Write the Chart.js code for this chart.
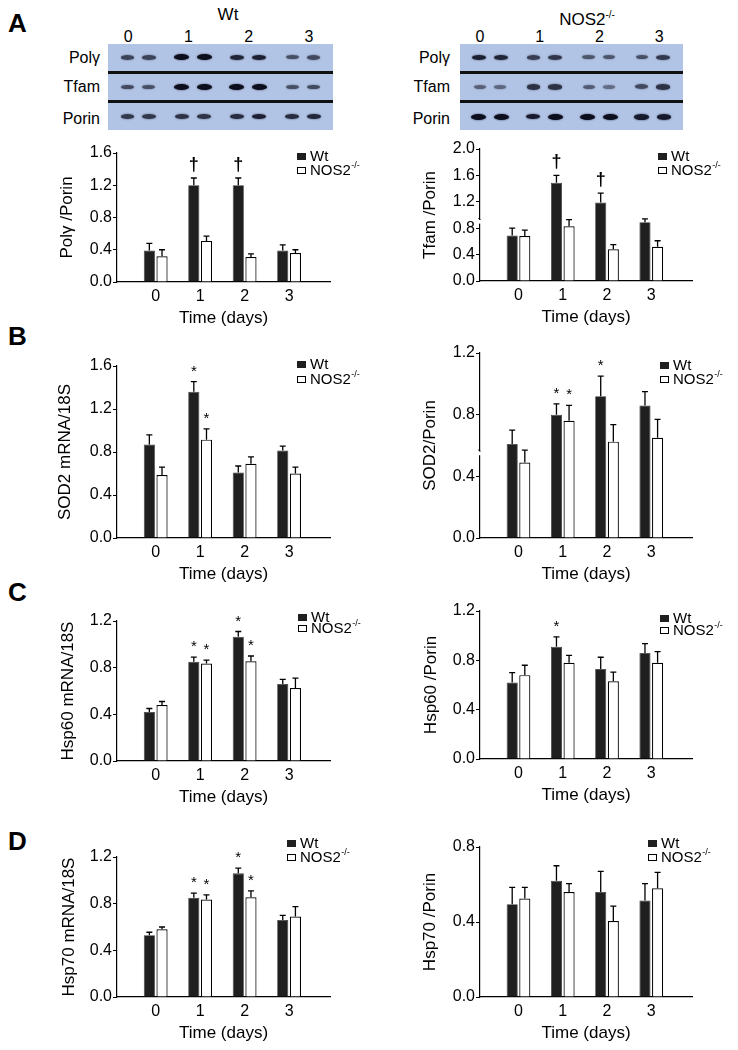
<!DOCTYPE html>
<html>
<head>
<meta charset="utf-8">
<script src="https://cdn.jsdelivr.net/npm/chart.js@4.4.0/dist/chart.umd.min.js"></script>
<style>
  body { margin: 0; background: #fff; font-family: "Liberation Sans", Arial, sans-serif; color: #000; }
  #fig { position: relative; width: 738px; height: 1050px; overflow: hidden; }
  .abs { position: absolute; }
  .panel { font-weight: bold; font-size: 26px; line-height: 28px; }
  .blot { background: #b2c4e6; display: flex; flex-direction: column; }
  .brow { flex: 1; display: flex; align-items: center; padding: 0 3px; }
  .brow + .brow { border-top: 3px solid #111; }
  .bgrp { flex: 1; display: flex; justify-content: center; gap: 8px; }
  .band { border-radius: 50%; }
  .rlab { font-size: 16px; line-height: 20px; text-align: right; width: 80px; }
  .nums { display: flex; font-size: 16px; line-height: 20px; }
  .nums div { flex: 1; text-align: center; }
  .head { font-size: 17px; line-height: 20px; text-align: center; width: 120px; }
  sup { font-size: 10px; }
  canvas { position: absolute; }
</style>
</head>
<body>
<div id="fig">
  <div class="abs panel" style="left:8px;top:9px">A</div>
  <div class="abs panel" style="left:8px;top:322px">B</div>
  <div class="abs panel" style="left:8px;top:578px">C</div>
  <div class="abs panel" style="left:8px;top:827px">D</div>

  <div class="abs head" style="left:168px;top:5px">Wt</div>
  <div class="abs head" style="left:527px;top:5px">NOS2<sup>-/-</sup></div>
  <div class="abs nums" id="numsWt" style="left:98px;top:27px;width:241px"></div>
  <div class="abs nums" id="numsNos" style="left:450px;top:27px;width:239px"></div>
  <div class="abs blot" id="blotWt" style="left:108px;top:44px;width:225px;height:86px"></div>
  <div class="abs blot" id="blotNos" style="left:460px;top:44px;width:223px;height:86px"></div>
  <div id="labsWt"></div>
  <div id="labsNos"></div>

  <canvas id="cA1"></canvas>
  <canvas id="cA2"></canvas>
  <canvas id="cB1"></canvas>
  <canvas id="cB2"></canvas>
  <canvas id="cC1"></canvas>
  <canvas id="cC2"></canvas>
  <canvas id="cD1"></canvas>
  <canvas id="cD2"></canvas>
</div>
<script>
// days after treatment
const days = [0, 1, 2, 3];
const blotRows = ['Polγ', 'Tfam', 'Porin'];

// western blot band strength (0-1), two lanes per day
const wtPolyBands  = [0.55, 0.55, 1.0, 1.0, 0.8, 0.85, 0.45, 0.5];
const wtTfamBands  = [0.5, 0.45, 1.0, 1.0, 1.0, 1.0, 0.45, 0.5];
const wtPorinBands = [0.65, 0.65, 0.7, 0.7, 0.75, 0.85, 0.75, 0.8];
const nosPolyBands  = [0.85, 0.8, 0.6, 0.65, 0.4, 0.4, 0.45, 0.65];
const nosTfamBands  = [0.3, 0.25, 0.7, 0.7, 0.35, 0.2, 0.5, 0.7];
const nosPorinBands = [1.0, 1.0, 0.9, 1.0, 1.0, 1.0, 0.9, 0.9];

// A: Polγ/Porin
const polyWt = [0.39, 1.20, 1.20, 0.39];
const polyWtSem = [0.09, 0.09, 0.09, 0.07];
const polyNos = [0.32, 0.51, 0.31, 0.36];
const polyNosSem = [0.08, 0.06, 0.04, 0.04];
const polyWtMarks = ['', '†', '†', ''];
const polyNosMarks = ['', '', '', ''];
// A: Tfam/Porin
const tfamWt = [0.69, 1.49, 1.19, 0.89];
const tfamWtSem = [0.11, 0.11, 0.14, 0.05];
const tfamNos = [0.68, 0.83, 0.48, 0.52];
const tfamNosSem = [0.09, 0.10, 0.07, 0.09];
const tfamWtMarks = ['', '†', '†', ''];
const tfamNosMarks = ['', '', '', ''];
// B: SOD2 mRNA/18S
const sodMrnaWt = [0.87, 1.36, 0.61, 0.815];
const sodMrnaWtSem = [0.09, 0.095, 0.06, 0.04];
const sodMrnaNos = [0.585, 0.915, 0.69, 0.60];
const sodMrnaNosSem = [0.075, 0.10, 0.065, 0.06];
const sodMrnaWtMarks = ['', '*', '', ''];
const sodMrnaNosMarks = ['', '*', '', ''];
// B: SOD2/Porin
const sodProtWt = [0.61, 0.80, 0.92, 0.86];
const sodProtWtSem = [0.09, 0.07, 0.13, 0.09];
const sodProtNos = [0.49, 0.76, 0.625, 0.65];
const sodProtNosSem = [0.08, 0.10, 0.11, 0.12];
const sodProtWtMarks = ['', '*', '*', ''];
const sodProtNosMarks = ['', '*', '', ''];
// C: Hsp60 mRNA/18S
const hsp60MrnaWt = [0.42, 0.85, 1.065, 0.66];
const hsp60MrnaWtSem = [0.03, 0.04, 0.045, 0.04];
const hsp60MrnaNos = [0.48, 0.835, 0.855, 0.625];
const hsp60MrnaNosSem = [0.03, 0.03, 0.045, 0.085];
const hsp60MrnaWtMarks = ['', '*', '*', ''];
const hsp60MrnaNosMarks = ['', '*', '*', ''];
// C: Hsp60/Porin
const hsp60ProtWt = [0.62, 0.91, 0.73, 0.86];
const hsp60ProtWtSem = [0.08, 0.08, 0.095, 0.075];
const hsp60ProtNos = [0.68, 0.78, 0.63, 0.78];
const hsp60ProtNosSem = [0.08, 0.06, 0.075, 0.09];
const hsp60ProtWtMarks = ['', '*', '', ''];
const hsp60ProtNosMarks = ['', '', '', ''];
// D: Hsp70 mRNA/18S
const hsp70MrnaWt = [0.53, 0.85, 1.06, 0.66];
const hsp70MrnaWtSem = [0.025, 0.04, 0.045, 0.04];
const hsp70MrnaNos = [0.58, 0.835, 0.855, 0.69];
const hsp70MrnaNosSem = [0.02, 0.04, 0.055, 0.085];
const hsp70MrnaWtMarks = ['', '*', '*', ''];
const hsp70MrnaNosMarks = ['', '*', '*', ''];
// D: Hsp70/Porin
const hsp70ProtWt = [0.495, 0.62, 0.56, 0.515];
const hsp70ProtWtSem = [0.09, 0.08, 0.11, 0.09];
const hsp70ProtNos = [0.525, 0.56, 0.405, 0.58];
const hsp70ProtNosSem = [0.06, 0.045, 0.08, 0.085];
const hsp70ProtWtMarks = ['', '', '', ''];
const hsp70ProtNosMarks = ['', '', '', ''];

const FONT = '"Liberation Sans", Arial, sans-serif';
Chart.defaults.font.family = FONT;
Chart.defaults.color = '#000';

// ---- blots ----
function buildBlot(blotId, numsId, labsId, labRight, rows) {
  const blot = document.getElementById(blotId);
  rows.forEach(bands => {
    const row = document.createElement('div');
    row.className = 'brow';
    for (let g = 0; g < days.length; g++) {
      const grp = document.createElement('div');
      grp.className = 'bgrp';
      for (let k = 0; k < 2; k++) {
        const s = bands[g * 2 + k];
        const b = document.createElement('div');
        b.className = 'band';
        b.style.width = (11 + 4 * s) + 'px';
        b.style.height = (3 + 3 * s) + 'px';
        b.style.background = 'rgba(12,14,30,' + (0.35 + 0.65 * s) + ')';
        b.style.boxShadow = '0 0 2px rgba(12,14,30,' + (0.3 + 0.5 * s) + ')';
        grp.appendChild(b);
      }
      row.appendChild(grp);
    }
    blot.appendChild(row);
  });
  const nums = document.getElementById(numsId);
  days.forEach(d => {
    const n = document.createElement('div');
    n.textContent = d;
    nums.appendChild(n);
  });
  const labs = document.getElementById(labsId);
  const centers = [58, 87, 119];
  blotRows.forEach((name, i) => {
    const l = document.createElement('div');
    l.className = 'abs rlab';
    l.textContent = name;
    l.style.left = (labRight - 80) + 'px';
    l.style.top = (centers[i] - 10) + 'px';
    labs.appendChild(l);
  });
}
buildBlot('blotWt', 'numsWt', 'labsWt', 100, [wtPolyBands, wtTfamBands, wtPorinBands]);
buildBlot('blotNos', 'numsNos', 'labsNos', 450, [nosPolyBands, nosTfamBands, nosPorinBands]);

// error bars, significance marks, legend, axis break
const extras = {
  id: 'extras',
  afterDatasetsDraw(chart, args, opts) {
    const ctx = chart.ctx;
    const ys = chart.scales.y;
    ctx.save();
    chart.data.datasets.forEach((ds, di) => {
      const meta = chart.getDatasetMeta(di);
      meta.data.forEach((bar, i) => {
        const top = ys.getPixelForValue(ds.data[i].y + ds.sem[i]);
        ctx.strokeStyle = '#000';
        ctx.lineWidth = 1.3;
        ctx.beginPath();
        ctx.moveTo(bar.x, bar.y);
        ctx.lineTo(bar.x, top);
        ctx.moveTo(bar.x - 3, top);
        ctx.lineTo(bar.x + 3, top);
        ctx.stroke();
        const m = ds.marks[i];
        if (m) {
          ctx.fillStyle = '#000';
          ctx.textAlign = 'center';
          ctx.textBaseline = 'alphabetic';
          if (m === '†') {
            ctx.font = 'bold 18px ' + FONT;
            ctx.fillText(m, bar.x, top - 8);
          } else {
            ctx.font = '15px ' + FONT;
            ctx.fillText(m, bar.x, top - 6);
          }
        }
      });
    });
    // axis break
    if (opts.brk) {
      const yb = ys.getPixelForValue(opts.brk);
      const xa = ys.right;
      ctx.fillStyle = '#fff';
      ctx.fillRect(xa - 2, yb - 2, 4, 4);
      ctx.strokeStyle = '#000';
      ctx.lineWidth = 1;
      ctx.beginPath();
      ctx.moveTo(xa + 0.5, yb - 2);
      ctx.quadraticCurveTo(xa - 1, yb - 2, xa - 1.5, yb - 3.5);
      ctx.stroke();
    }
    // legend
    const lx = opts.x, ly = opts.y, gap = opts.gap;
    ctx.fillStyle = '#1f1f1f';
    ctx.fillRect(lx, ly - 3, 9, 7);
    ctx.fillStyle = '#fff';
    ctx.strokeStyle = '#000';
    ctx.lineWidth = 1;
    ctx.fillRect(lx + 0.5, ly + gap - 3 + 0.5, 8, 6);
    ctx.strokeRect(lx + 0.5, ly + gap - 3 + 0.5, 8, 6);
    ctx.fillStyle = '#000';
    ctx.textAlign = 'left';
    ctx.textBaseline = 'middle';
    ctx.font = '15px ' + FONT;
    ctx.fillText('Wt', lx + 13, ly + 1);
    ctx.fillText('NOS2', lx + 13, ly + gap + 1);
    const w = ctx.measureText('NOS2').width;
    ctx.font = '9px ' + FONT;
    ctx.fillText('-/-', lx + 13 + w + 0.5, ly + gap - 4);
    ctx.restore();
  }
};

function makeChart(spec) {
  const cv = document.getElementById(spec.id);
  cv.width = spec.w;
  cv.height = spec.h;
  cv.style.left = spec.left + 'px';
  cv.style.top = spec.top + 'px';
  const toXY = arr => days.map((d, i) => ({ x: d, y: arr[i] }));
  return new Chart(cv, {
    type: 'bar',
    data: {
      datasets: [
        { label: 'Wt', data: toXY(spec.wt), sem: spec.wtSem, marks: spec.wtMarks,
          backgroundColor: '#1f1f1f', borderColor: '#3a3a3a', borderWidth: 0.8 },
        { label: 'NOS2-/-', data: toXY(spec.nos), sem: spec.nosSem, marks: spec.nosMarks,
          backgroundColor: '#fff', borderColor: '#000', borderWidth: 1.2 }
      ]
    },
    options: {
      responsive: false,
      animation: false,
      events: [],
      categoryPercentage: 0.57,
      barPercentage: 0.88,
      layout: { padding: { top: spec.padTop, right: spec.padRight, left: 0, bottom: 0 } },
      plugins: {
        legend: { display: false },
        tooltip: { enabled: false },
        extras: spec.legend
      },
      scales: {
        x: {
          type: 'linear',
          offset: false,
          min: -0.87,
          max: 3.92,
          afterBuildTicks: s => { s.ticks = days.map(v => ({ value: v })); },
          afterFit: s => { s.height = 50; },
          grid: { display: false, drawTicks: false, offset: false },
          border: { display: true, color: '#000', width: 1.2 },
          ticks: { font: { size: 16 }, padding: 5, callback: v => String(v) },
          title: { display: true, text: 'Time (days)', font: { size: 17 }, padding: { top: 0, bottom: 3 } }
        },
        y: {
          min: 0,
          max: spec.ymax,
          afterBuildTicks: s => {
            const t = [];
            for (let v = 0; v <= spec.ymax + 1e-6; v += 0.4) t.push({ value: Math.round(v * 10) / 10 });
            s.ticks = t;
          },
          afterFit: s => { s.width = spec.yw; },
          grid: { display: true, drawOnChartArea: false, drawTicks: true, tickLength: 4, color: '#000', lineWidth: 1 },
          border: { display: true, color: '#000', width: 1.2 },
          ticks: { font: { size: 16 }, padding: 1, callback: v => v.toFixed(1) },
          title: { display: true, text: spec.ytitle, font: { size: 17 }, padding: { top: spec.titlePad } }
        }
      }
    },
    plugins: [extras]
  });
}

makeChart({ id: 'cA1', left: 0, top: 135, w: 369, h: 197, padTop: 18, padRight: 39, yw: 117, titlePad: 57,
  ymax: 1.6, ytitle: 'Polγ /Porin', wt: polyWt, wtSem: polyWtSem, wtMarks: polyWtMarks,
  nos: polyNos, nosSem: polyNosSem, nosMarks: polyNosMarks, legend: { x: 297, y: 21, gap: 14 } });
makeChart({ id: 'cA2', left: 370, top: 135, w: 368, h: 196, padTop: 14, padRight: 46, yw: 110, titlePad: 50,
  ymax: 2.0, ytitle: 'Tfam /Porin', wt: tfamWt, wtSem: tfamWtSem, wtMarks: tfamWtMarks,
  nos: tfamNos, nosSem: tfamNosSem, nosMarks: tfamNosMarks, legend: { x: 288, y: 21, gap: 14, brk: 0.9 } });
makeChart({ id: 'cB1', left: 0, top: 340, w: 369, h: 248, padTop: 26, padRight: 39, yw: 117, titlePad: 55,
  ymax: 1.6, ytitle: 'SOD2 mRNA/18S', wt: sodMrnaWt, wtSem: sodMrnaWtSem, wtMarks: sodMrnaWtMarks,
  nos: sodMrnaNos, nosSem: sodMrnaNosSem, nosMarks: sodMrnaNosMarks, legend: { x: 297, y: 24, gap: 15 } });
makeChart({ id: 'cB2', left: 370, top: 340, w: 368, h: 248, padTop: 13, padRight: 46, yw: 110, titlePad: 50,
  ymax: 1.2, ytitle: 'SOD2/Porin', wt: sodProtWt, wtSem: sodProtWtSem, wtMarks: sodProtWtMarks,
  nos: sodProtNos, nosSem: sodProtNosSem, nosMarks: sodProtNosMarks, legend: { x: 290, y: 25, gap: 14, brk: 0.55 } });
makeChart({ id: 'cC1', left: 0, top: 600, w: 369, h: 211, padTop: 21, padRight: 39, yw: 117, titlePad: 58,
  ymax: 1.2, ytitle: 'Hsp60 mRNA/18S', wt: hsp60MrnaWt, wtSem: hsp60MrnaWtSem, wtMarks: hsp60MrnaWtMarks,
  nos: hsp60MrnaNos, nosSem: hsp60MrnaNosSem, nosMarks: hsp60MrnaNosMarks, legend: { x: 298, y: 17, gap: 11 } });
makeChart({ id: 'cC2', left: 370, top: 600, w: 368, h: 209, padTop: 11, padRight: 46, yw: 110, titlePad: 51,
  ymax: 1.2, ytitle: 'Hsp60 /Porin', wt: hsp60ProtWt, wtSem: hsp60ProtWtSem, wtMarks: hsp60ProtWtMarks,
  nos: hsp60ProtNos, nosSem: hsp60ProtNosSem, nosMarks: hsp60ProtNosMarks, legend: { x: 290, y: 18, gap: 12 } });
makeChart({ id: 'cD1', left: 0, top: 825, w: 369, h: 222, padTop: 32, padRight: 39, yw: 117, titlePad: 59,
  ymax: 1.2, ytitle: 'Hsp70 mRNA/18S', wt: hsp70MrnaWt, wtSem: hsp70MrnaWtSem, wtMarks: hsp70MrnaWtMarks,
  nos: hsp70MrnaNos, nosSem: hsp70MrnaNosSem, nosMarks: hsp70MrnaNosMarks, legend: { x: 287, y: 18, gap: 14 } });
makeChart({ id: 'cD2', left: 370, top: 825, w: 368, h: 222, padTop: 22, padRight: 46, yw: 110, titlePad: 50,
  ymax: 0.8, ytitle: 'Hsp70 /Porin', wt: hsp70ProtWt, wtSem: hsp70ProtWtSem, wtMarks: hsp70ProtWtMarks,
  nos: hsp70ProtNos, nosSem: hsp70ProtNosSem, nosMarks: hsp70ProtNosMarks, legend: { x: 278, y: 18, gap: 14 } });
</script>
</body>
</html>
